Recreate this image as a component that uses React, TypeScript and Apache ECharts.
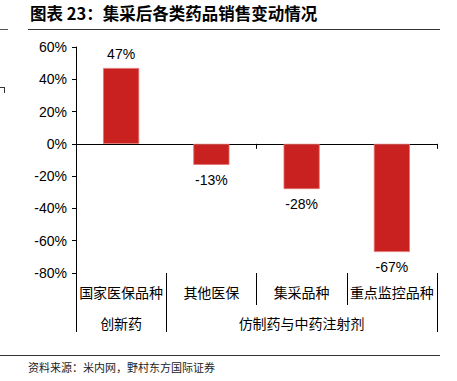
import React, { useEffect, useRef } from "react";
import * as echarts from "echarts";

const titleText = "图表 23：集采后各类药品销售变动情况";
const sourceText = "资料来源：米内网，野村东方国际证券";
const categories = ["国家医保品种", "其他医保", "集采品种", "重点监控品种"];
const values = [47, -13, -28, -67];
const groupNames = ["创新药", "仿制药与中药注射剂"];
const groupSpans = [1, 3];
const yMin = -80;
const yMax = 60;
const yStep = 20;

const NUM_FONT = "'Liberation Sans', Arial, sans-serif";
const CJK_FONT = "'Noto Sans CJK SC', sans-serif";
const BAR_COLOR = "#C8211F";

export default function App() {
  const ref = useRef<HTMLDivElement>(null);
  useEffect(() => {
    document.body.style.margin = "0";
    const chart = echarts.init(ref.current!, null, { renderer: "svg" });
    chart.setOption({
      animation: false,
      grid: { left: 76, right: 20, top: 47, bottom: 108, containLabel: false },
      xAxis: [
        {
          type: "category",
          data: categories,
          position: "bottom",
          axisLine: { onZero: true, lineStyle: { color: "#000", width: 1.2 } },
          axisTick: { show: true, length: 5, inside: false, lineStyle: { color: "#000" } },
          axisLabel: { show: false },
          splitLine: { show: false },
        },
        {
          type: "category",
          data: categories,
          position: "bottom",
          axisLine: { show: false, onZero: false },
          axisTick: { show: true, length: 32, interval: 0, lineStyle: { color: "#000" } },
          axisLabel: {
            show: true,
            interval: 0,
            margin: 12,
            fontSize: 14,
            color: "#000",
            fontFamily: CJK_FONT,
          },
          splitLine: { show: false },
        },
      ],
      yAxis: {
        type: "value",
        min: yMin,
        max: yMax,
        interval: yStep,
        axisLine: { show: true, lineStyle: { color: "#000" } },
        axisTick: { show: true, length: 4, lineStyle: { color: "#000" } },
        axisLabel: {
          formatter: "{value}%",
          fontSize: 14,
          color: "#000",
          fontFamily: NUM_FONT,
          margin: 9,
        },
        splitLine: { show: false },
      },
      series: [
        {
          type: "bar",
          xAxisIndex: 0,
          barWidth: "40%",
          data: values.map((v) => ({
            value: v,
            label: { position: v >= 0 ? "top" : "bottom", distance: v >= 0 ? 7 : 8 },
          })),
          itemStyle: { color: BAR_COLOR, borderColor: "#E27370", borderWidth: 0.8 },
          label: {
            show: true,
            formatter: (p: any) => p.value + "%",
            fontSize: 14,
            color: "#000",
            fontFamily: NUM_FONT,
          },
        },
      ],
    });

    const c0 = chart.convertToPixel({ xAxisIndex: 0 }, 0) as number;
    const c1 = chart.convertToPixel({ xAxisIndex: 0 }, 1) as number;
    const band = c1 - c0;
    const left = c0 - band / 2;
    const bottom = chart.convertToPixel({ yAxisIndex: 0 }, yMin) as number;
    const rowBottom = bottom + 59;

    const graphics: any[] = [
      {
        type: "text",
        left: 30,
        top: 5,
        style: {
          text: titleText,
          font: `bold 16.5px ${CJK_FONT}`,
          fill: "#000",
        },
      },
      { type: "line", shape: { x1: 28, y1: 29.5, x2: 440, y2: 29.5 }, style: { stroke: "#333", lineWidth: 1 } },
      { type: "line", shape: { x1: 0, y1: 29.5, x2: 8, y2: 29.5 }, style: { stroke: "#555", lineWidth: 1 } },
      { type: "line", shape: { x1: 0, y1: 87.5, x2: 5, y2: 87.5 }, style: { stroke: "#333", lineWidth: 1 } },
      { type: "line", shape: { x1: 4.5, y1: 87.5, x2: 4.5, y2: 93 }, style: { stroke: "#333", lineWidth: 1 } },
      { type: "line", shape: { x1: 0, y1: 355.5, x2: 440, y2: 355.5 }, style: { stroke: "#333", lineWidth: 1 } },
      {
        type: "text",
        left: 28,
        top: 361,
        style: { text: sourceText, font: `11px ${CJK_FONT}`, fill: "#222" },
      },
    ];

    let start = 0;
    const edges = [left];
    groupNames.forEach((name, i) => {
      const x0 = left + start * band;
      const x1 = left + (start + groupSpans[i]) * band;
      edges.push(x1);
      graphics.push({
        type: "text",
        x: (x0 + x1) / 2,
        y: bottom + 50,
        style: {
          text: name,
          font: `14px ${CJK_FONT}`,
          fill: "#000",
          align: "center",
          verticalAlign: "middle",
        },
      });
      start += groupSpans[i];
    });
    edges.forEach((x) => {
      const px = Math.round(x) + 0.5;
      graphics.push({
        type: "line",
        shape: { x1: px, y1: bottom, x2: px, y2: rowBottom },
        style: { stroke: "#000", lineWidth: 1 },
      });
    });

    chart.setOption({ graphic: graphics });
    return () => chart.dispose();
  }, []);
  return <div ref={ref} style={{ width: 457, height: 381 }} />;
}
